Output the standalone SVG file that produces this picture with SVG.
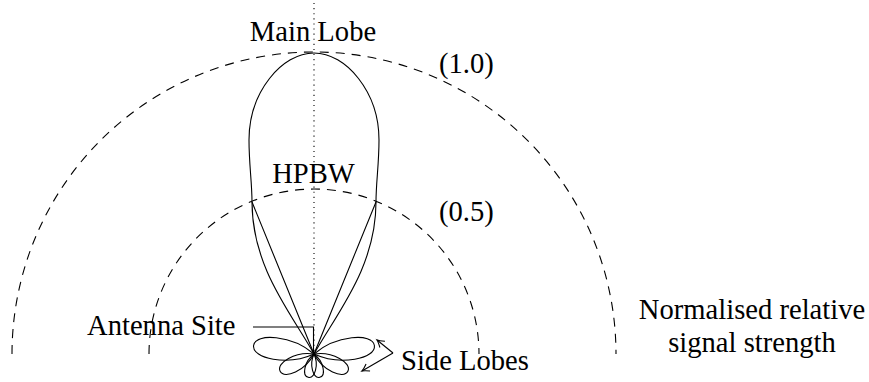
<svg xmlns="http://www.w3.org/2000/svg" width="869" height="382" viewBox="0 0 869 382">
<style>
.ln{fill:none;stroke:#000;stroke-width:1.1}
.dash{fill:none;stroke:#000;stroke-width:1.1;stroke-dasharray:9 7}
.dot{fill:none;stroke:#000;stroke-width:1.1;stroke-dasharray:1.1 4}
.t{font-family:'Liberation Serif','DejaVu Serif',serif;font-size:28.6px;fill:#000}
</style>
<defs>
<marker id="arr" markerUnits="userSpaceOnUse" markerWidth="12" markerHeight="12" refX="0" refY="0" viewBox="-8 -6 10 12" orient="auto" overflow="visible">
<path d="M-7,-4 Q-2,-0.6 0,0 Q-2,0.6 -7,4" fill="none" stroke="#000" stroke-width="1.1"/>
</marker>
</defs>
<rect width="869" height="382" fill="#fff"/>
<g id="scale-arcs">
<path class="dash" d="M12,354 A302,302 0 0 1 616,354"/>
<path class="dash" d="M149,354 A165,165 0 0 1 479,354"/>
</g>
<g id="axis">
<path class="dot" d="M314,3 L314,354"/>
</g>
<g id="main-lobe">
<path class="ln" d="M314,354 C292,314 252,268 252,202 C252,182 249,165 249,140 C249,92 282,53 314,53 C346,53 379,92 379,140 C379,165 376,182 376,202 C376,268 336,314 314,354 Z"/>
<path class="ln" d="M252,202 L314,354 M376,202 L314,354"/>
</g>
<g id="side-lobes">
<path class="ln" transform="translate(314,354) rotate(188)" d="M0,0 C24.4,-15.6 61,-13.2 61,0 C61,13.2 24.4,15.6 0,0Z"/>
<path class="ln" transform="translate(314,354) rotate(-8)" d="M0,0 C24.4,-15.6 61,-13.2 61,0 C61,13.2 24.4,15.6 0,0Z"/>
<path class="ln" transform="translate(314,354) rotate(153)" d="M0,0 C15.2,-11 38,-9.4 38,0 C38,9.4 15.2,11 0,0Z"/>
<path class="ln" transform="translate(314,354) rotate(27)" d="M0,0 C15.2,-11 38,-9.4 38,0 C38,9.4 15.2,11 0,0Z"/>
<path class="ln" transform="translate(314,354) rotate(104)" d="M0,0 C9.6,-7.8 24,-6.6 24,0 C24,6.6 9.6,7.8 0,0Z"/>
<path class="ln" transform="translate(314,354) rotate(76)" d="M0,0 C9.6,-7.8 24,-6.6 24,0 C24,6.6 9.6,7.8 0,0Z"/>
</g>
<g id="connectors">
<path class="ln" d="M253,327 L313.5,327 L313.5,354"/>
<path class="ln" marker-end="url(#arr)" d="M393,353 L377,340"/>
<path class="ln" marker-end="url(#arr)" d="M393,353 L362,371"/>
</g>
<g id="label-main-lobe"><text class="t" font-family="Liberation Serif, DejaVu Serif, serif" x="313" y="41" text-anchor="middle">Main Lobe</text></g>
<g id="label-hpbw"><text class="t" font-family="Liberation Serif, DejaVu Serif, serif" x="313.5" y="183" text-anchor="middle">HPBW</text></g>
<g id="label-1-0"><text class="t" font-family="Liberation Serif, DejaVu Serif, serif" x="439" y="72.5">(1.0)</text></g>
<g id="label-0-5"><text class="t" font-family="Liberation Serif, DejaVu Serif, serif" x="439" y="221">(0.5)</text></g>
<g id="label-antenna-site"><text class="t" font-family="Liberation Serif, DejaVu Serif, serif" x="87" y="335">Antenna Site</text></g>
<g id="label-side-lobes"><text class="t" font-family="Liberation Serif, DejaVu Serif, serif" x="401" y="370">Side Lobes</text></g>
<g id="label-strength"><text class="t" font-family="Liberation Serif, DejaVu Serif, serif" x="752" y="319" text-anchor="middle">Normalised relative</text><text class="t" font-family="Liberation Serif, DejaVu Serif, serif" x="752" y="352" text-anchor="middle">signal strength</text></g>
</svg>
